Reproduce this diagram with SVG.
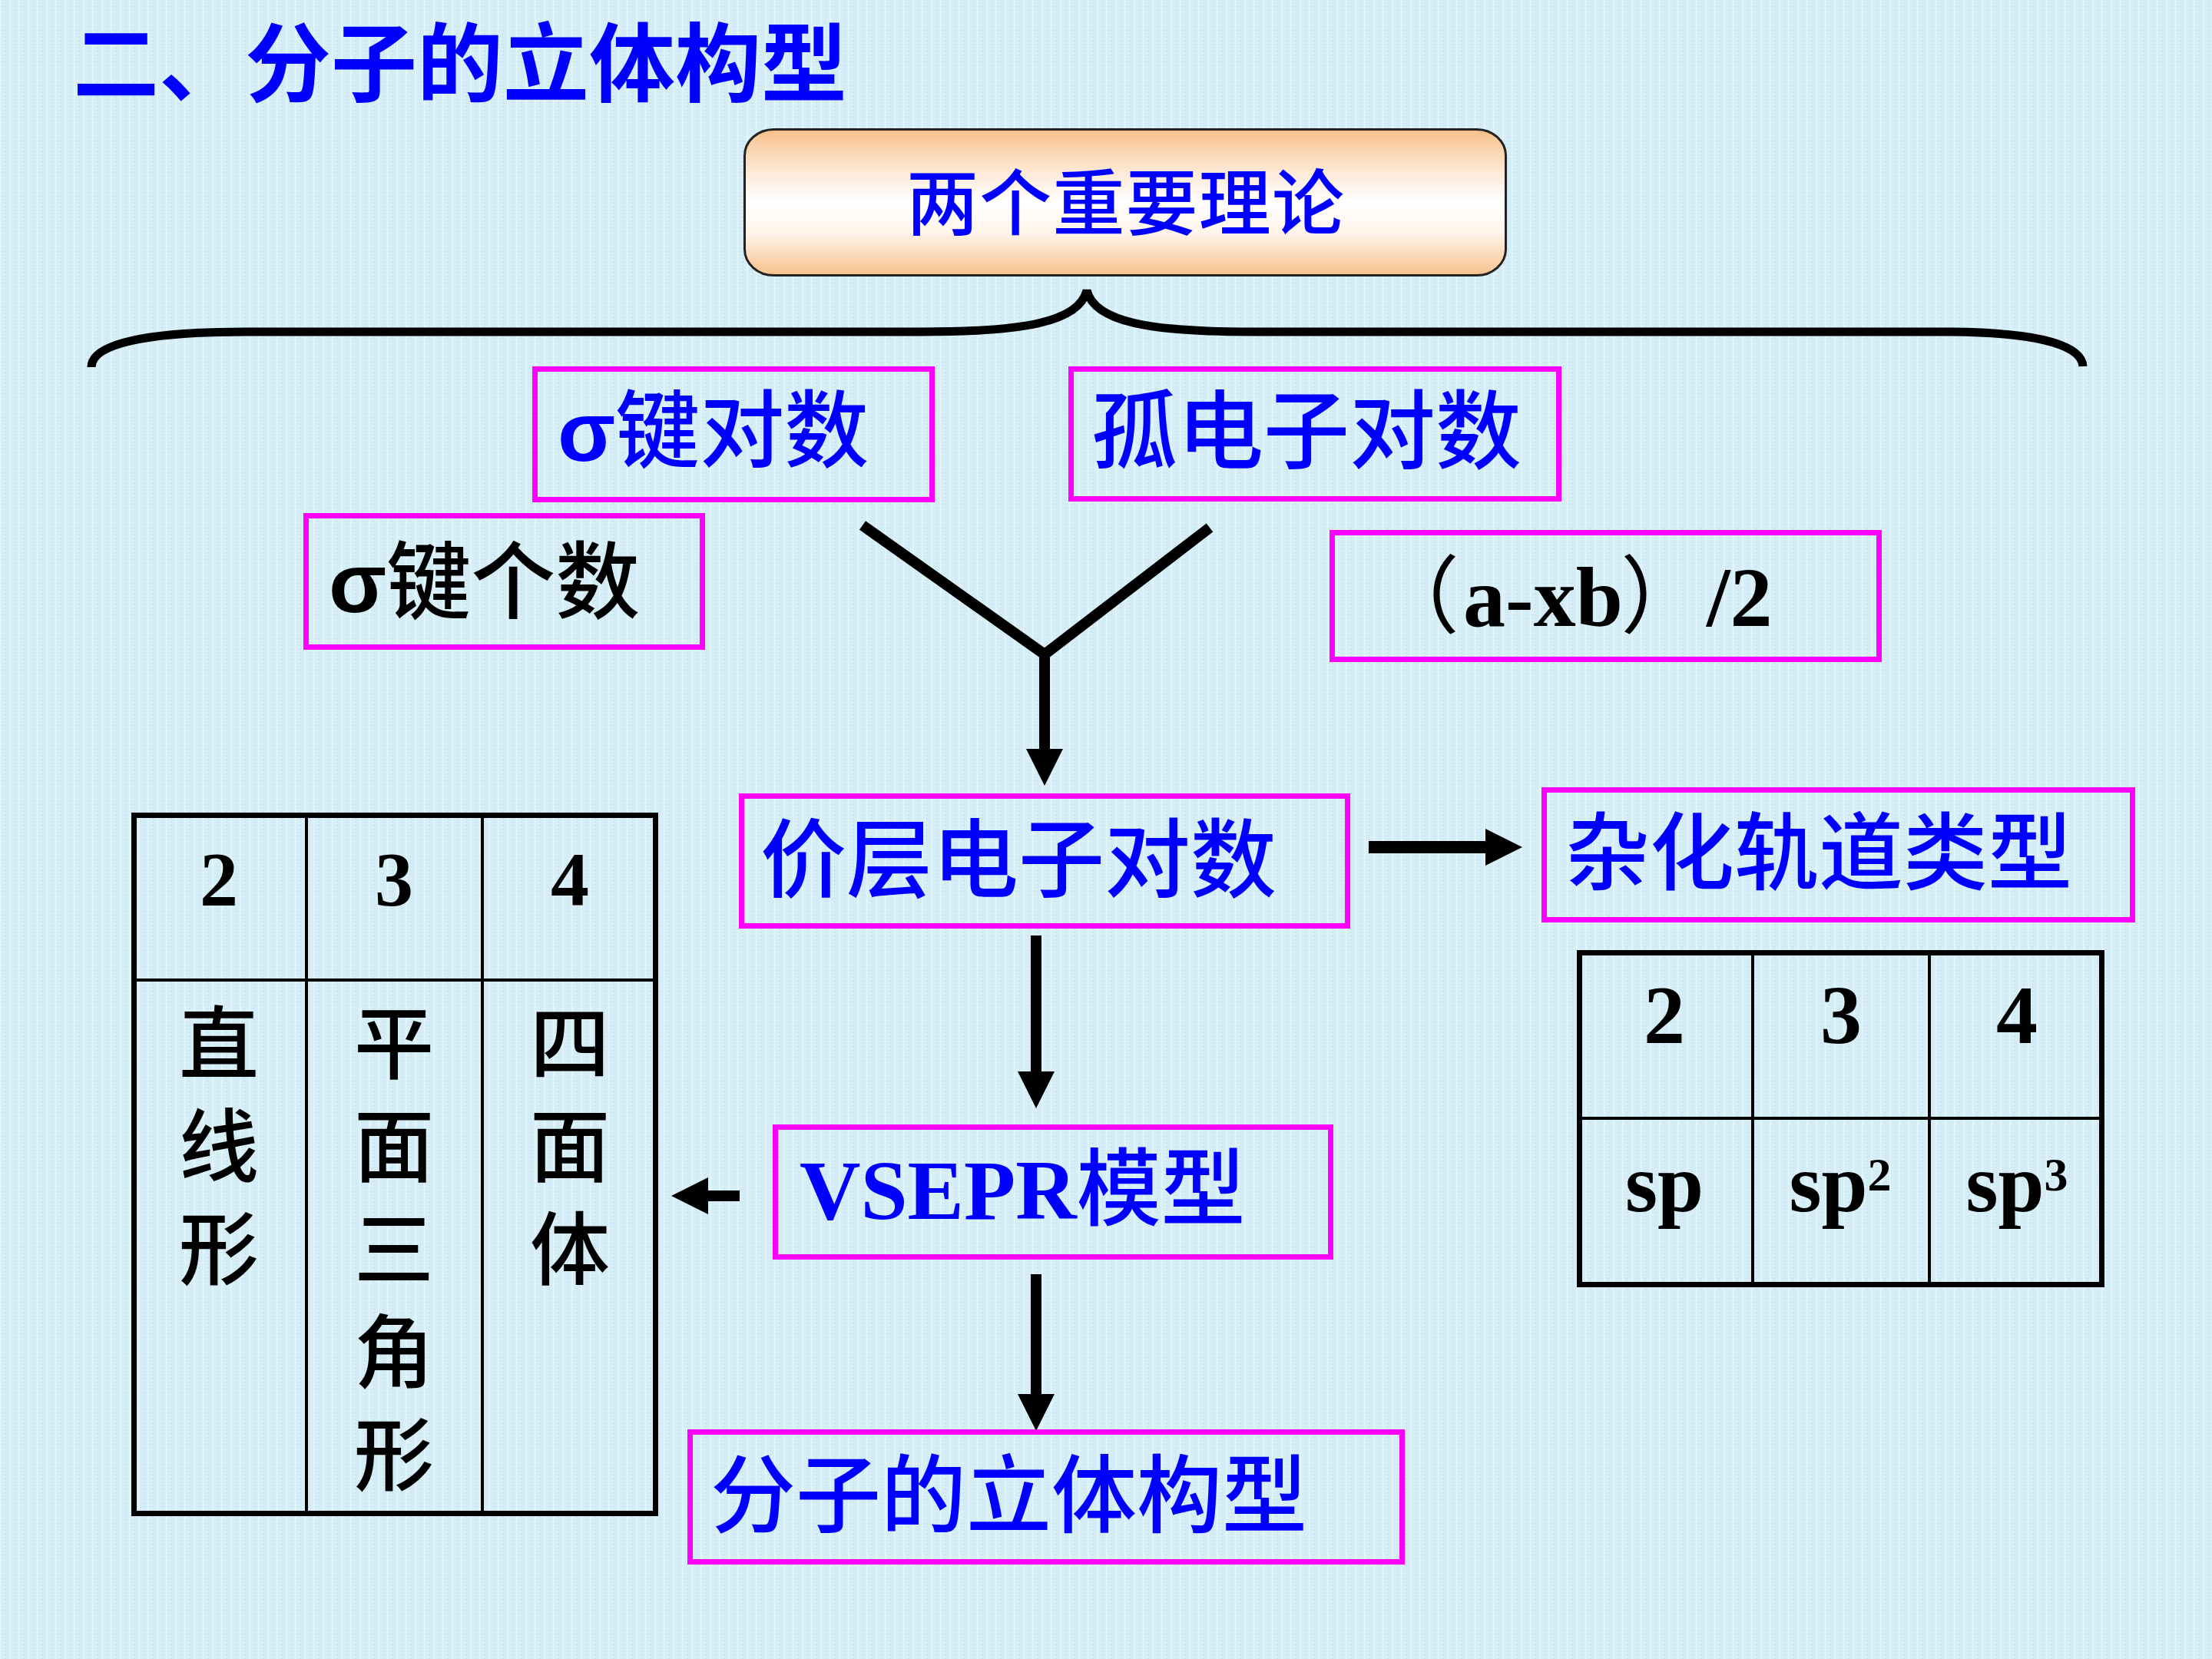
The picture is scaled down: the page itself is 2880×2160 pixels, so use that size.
<svg xmlns="http://www.w3.org/2000/svg" width="2880" height="2160" viewBox="0 0 2880 2160">
<defs>
  <pattern id="tex" width="12" height="9" patternUnits="userSpaceOnUse">
    <rect width="12" height="9" fill="#D5EDF6"/>
    <rect x="0" y="0" width="2" height="9" fill="#E3F7FC" opacity="0.8"/>
    <rect x="6" y="3" width="2" height="6" fill="#C6DFEC" opacity="0.6"/>
    <rect x="3" y="5" width="5" height="2" fill="#E6F8FC" opacity="0.5"/>
  </pattern>
  <linearGradient id="peach" x1="0" y1="0" x2="0" y2="1">
    <stop offset="0" stop-color="#F8C08A"/>
    <stop offset="0.3" stop-color="#FDEAD8"/>
    <stop offset="0.5" stop-color="#FFFFFF"/>
    <stop offset="0.72" stop-color="#FEF3E8"/>
    <stop offset="1" stop-color="#F8C08A"/>
  </linearGradient>
  <marker id="ah" markerUnits="userSpaceOnUse" markerWidth="48" markerHeight="48" refX="4" refY="24" orient="auto" viewBox="0 0 48 48">
    <path d="M0,0 L48,24 L0,48 z" fill="#000"/>
  </marker>
  <style>
    .box{fill:none;stroke:#FF00FF;stroke-width:7}
    .cjk{font-family:"Noto Sans CJK SC",sans-serif;font-weight:500}
    .blue{fill:#0000FF}
    .blk{fill:#000}
    .ser{font-family:"Liberation Serif","Noto Sans CJK SC",serif;font-weight:bold}
    .sig{font-family:"Liberation Sans",sans-serif;font-weight:bold}
    .conn{stroke:#000;fill:none;stroke-width:14}
    .tbl{fill:none;stroke:#000;stroke-width:7}
    .tin{stroke:#000;stroke-width:4}
  </style>
</defs>
<rect width="2880" height="2160" fill="url(#tex)"/>

<g id="title">
  <text x="95" y="124" class="cjk blue" font-size="112" font-weight="bold" style="font-weight:bold">二、分子的立体构型</text>
</g>

<g id="theories">
  <rect x="969.5" y="168.5" width="991" height="190" rx="38" ry="34" fill="url(#peach)" stroke="#222" stroke-width="3"/>
  <text x="1180" y="299" class="cjk blue" font-size="94" textLength="570" lengthAdjust="spacing">两个重要理论</text>
</g>

<g id="brace">
  <path d="M119,478 C119,448 190,432 320,432 L1200,432 C1330,432 1405,420 1415,378 C1425,420 1500,432 1630,432 L2530,432 C2640,432 2710,446 2712,477" fill="none" stroke="#000" stroke-width="11"/>
</g>

<g id="sigma-pairs">
  <rect class="box" x="696.5" y="480.5" width="517" height="170"/>
  <text x="726" y="600" class="blue" font-size="110"><tspan class="sig">σ</tspan><tspan class="cjk">键对数</tspan></text>
</g>

<g id="lone-pairs">
  <rect class="box" x="1394.5" y="480.5" width="635" height="169"/>
  <text x="1421" y="602" class="cjk blue" font-size="112">孤电子对数</text>
</g>

<g id="sigma-count">
  <rect class="box" x="398.5" y="671.5" width="516" height="171"/>
  <text x="428" y="797" class="blk" font-size="110"><tspan class="sig">σ</tspan><tspan class="cjk">键个数</tspan></text>
</g>

<g id="formula">
  <rect class="box" x="1734.5" y="693.5" width="712" height="165"/>
  <text y="815" class="blk" font-size="110"><tspan x="1790" class="cjk" style="font-weight:400">（</tspan><tspan x="1905" class="ser">a-xb</tspan><tspan x="2110" class="cjk" style="font-weight:400">）</tspan><tspan x="2222" class="ser">/2</tspan></text>
</g>

<g id="valence-pairs">
  <rect class="box" x="965.5" y="1036.5" width="789" height="169"/>
  <text x="990" y="1160" class="cjk blue" font-size="112">价层电子对数</text>
</g>

<g id="hybrid">
  <rect class="box" x="2010.5" y="1028.5" width="766" height="169"/>
  <text x="2038" y="1150" class="cjk blue" font-size="110">杂化轨道类型</text>
</g>

<g id="vsepr">
  <rect class="box" x="1009.5" y="1467.5" width="723" height="169"/>
  <text x="1041" y="1587" class="blue" font-size="110"><tspan class="ser">VSEPR</tspan><tspan class="cjk">模型</tspan></text>
</g>

<g id="shape">
  <rect class="box" x="898.5" y="1864.5" width="927" height="169"/>
  <text x="925" y="1987" class="cjk blue" font-size="111">分子的立体构型</text>
</g>

<g id="hybrid-table">
  <rect class="tbl" x="2056.5" y="1240.5" width="680" height="432"/>
  <line class="tin" x1="2053" y1="1456" x2="2740" y2="1456"/>
  <line class="tin" x1="2282" y1="1237" x2="2282" y2="1676"/>
  <line class="tin" x1="2512" y1="1237" x2="2512" y2="1676"/>
  <g class="ser blk" font-size="108" text-anchor="middle">
    <text x="2167" y="1358">2</text>
    <text x="2397" y="1358">3</text>
    <text x="2626" y="1358">4</text>
    <text x="2167" y="1577">sp</text>
    <text x="2396" y="1577">sp<tspan font-size="62" dy="-27">2</tspan></text>
    <text x="2626" y="1577">sp<tspan font-size="62" dy="-27">3</tspan></text>
  </g>
</g>

<g id="shape-table">
  <rect class="tbl" x="174.5" y="1061.5" width="679" height="909"/>
  <line class="tin" x1="171" y1="1276" x2="857" y2="1276"/>
  <line class="tin" x1="399" y1="1058" x2="399" y2="1974"/>
  <line class="tin" x1="628" y1="1058" x2="628" y2="1974"/>
  <g class="ser blk" font-size="100" text-anchor="middle">
    <text x="285" y="1178">2</text>
    <text x="513" y="1178">3</text>
    <text x="742" y="1178">4</text>
  </g>
  <g class="cjk blk" font-size="104" text-anchor="middle">
    <text x="285" y="1397">直<tspan x="285" dy="134">线</tspan><tspan x="285" dy="134">形</tspan></text>
    <text x="513" y="1397">平<tspan x="513" dy="134">面</tspan><tspan x="513" dy="134">三</tspan><tspan x="513" dy="134">角</tspan><tspan x="513" dy="134">形</tspan></text>
    <text x="742" y="1397">四<tspan x="742" dy="134">面</tspan><tspan x="742" dy="134">体</tspan></text>
  </g>
</g>

<g id="connectors">
  <path class="conn" d="M1123,684 L1360,852 L1575,687"/>
  <line class="conn" x1="1360" y1="848" x2="1360" y2="979" marker-end="url(#ah)"/>
  <line class="conn" x1="1782" y1="1103" x2="1938" y2="1103" style="stroke-width:16" marker-end="url(#ah)"/>
  <line class="conn" x1="1349" y1="1218" x2="1349" y2="1399" marker-end="url(#ah)"/>
  <line class="conn" x1="963" y1="1557" x2="918" y2="1557" marker-end="url(#ah)"/>
  <line class="conn" x1="1349" y1="1659" x2="1349" y2="1819" marker-end="url(#ah)"/>
</g>
</svg>
